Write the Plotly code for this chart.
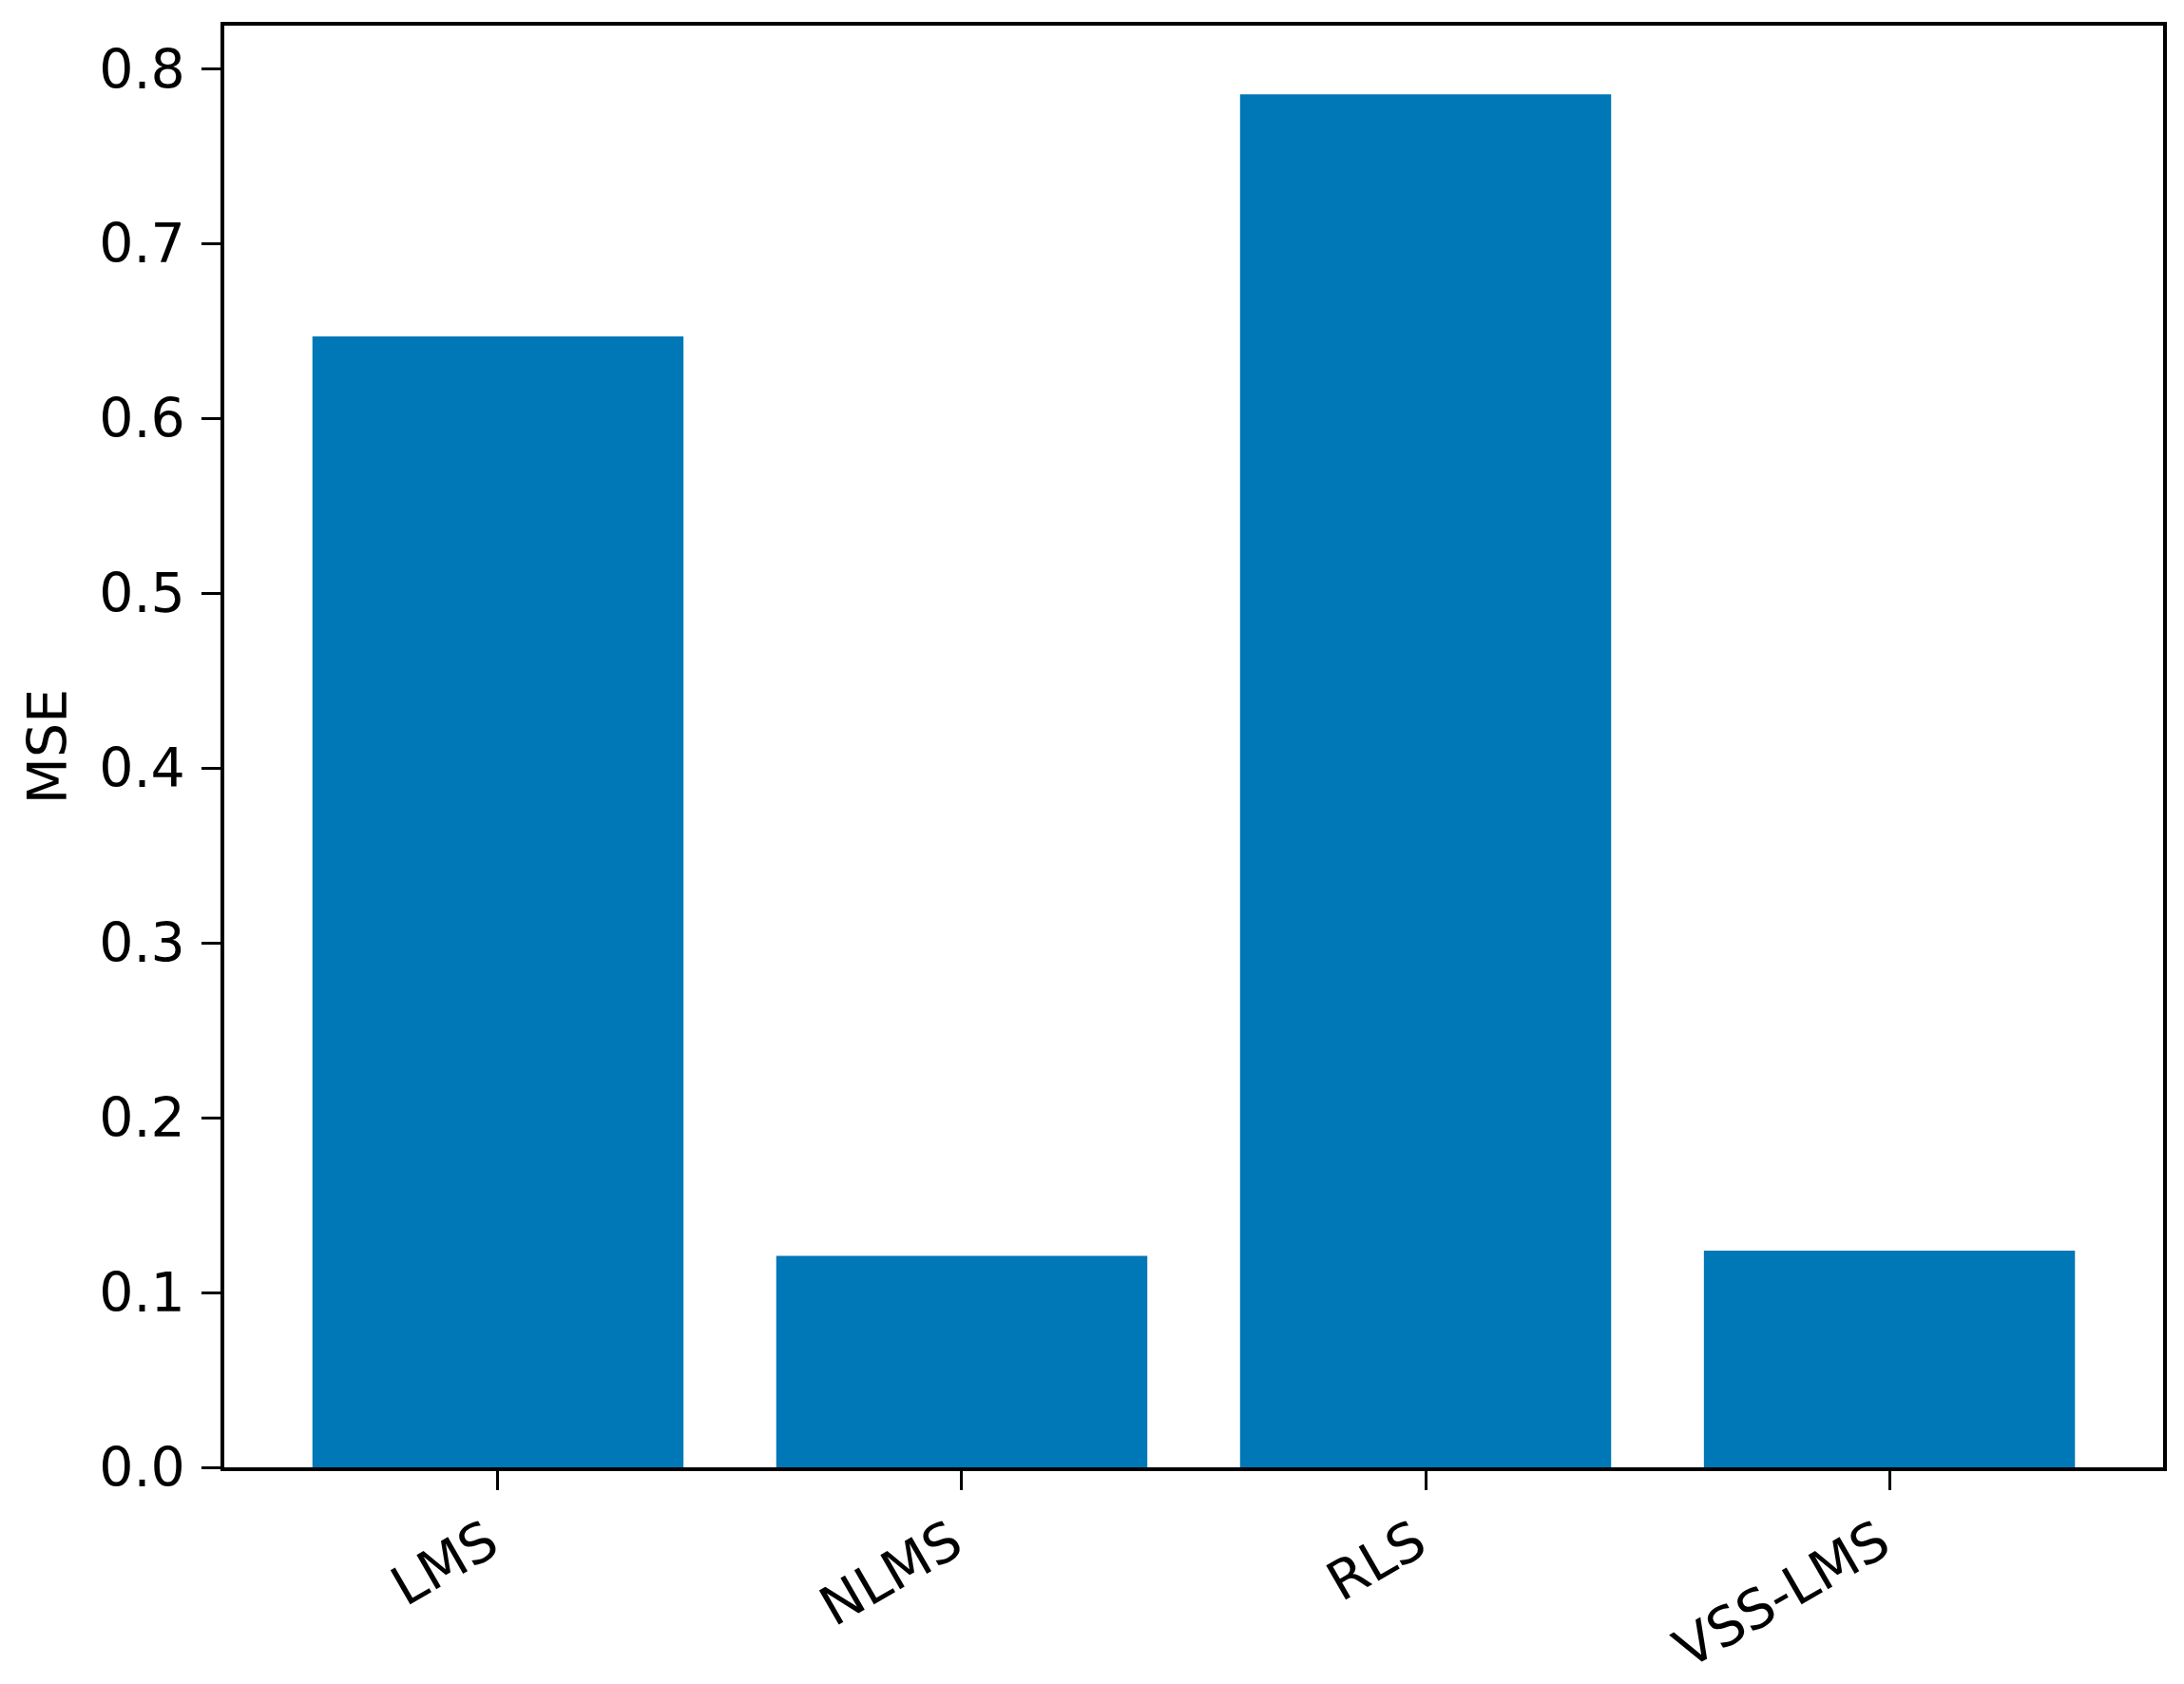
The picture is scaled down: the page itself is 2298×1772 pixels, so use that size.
import plotly.graph_objects as go

# MSE per adaptive filter algorithm
algorithms = ["LMS", "NLMS", "RLS", "VSS-LMS"]
mse_values = [0.647, 0.121, 0.7855, 0.124]

BAR_COLOR = "#0077b6"
FONT = "DejaVu Sans"
FONT_SIZE = 57

fig = go.Figure(go.Bar(
    x=algorithms,
    y=mse_values,
    marker=dict(color=BAR_COLOR, line=dict(width=0)),
    width=0.8,
))

axis_common = dict(
    showline=True,
    linecolor="black",
    linewidth=3.5,
    mirror=True,
    ticks="outside",
    ticklen=20,
    tickwidth=3,
    tickcolor="black",
    showgrid=False,
    zeroline=False,
    tickfont=dict(family=FONT, size=FONT_SIZE, color="black"),
)

fig.update_layout(
    width=2298,
    height=1772,
    margin=dict(l=228, r=30, t=19, b=232),
    paper_bgcolor="white",
    plot_bgcolor="white",
    showlegend=False,
    font=dict(family=FONT, size=FONT_SIZE, color="black"),
    xaxis=dict(
        **axis_common,
        range=[-0.59, 3.59],
        tickangle=-30,
        ticklabelshift=-10,
    ),
    yaxis=dict(
        **axis_common,
        range=[0, 0.8248],
        dtick=0.1,
        tick0=0,
        tickformat=".1f",
        ticklabelstandoff=6,
        title=dict(text="MSE", font=dict(family=FONT, size=FONT_SIZE, color="black"), standoff=16),
    ),
)

fig.write_html("out.html")
